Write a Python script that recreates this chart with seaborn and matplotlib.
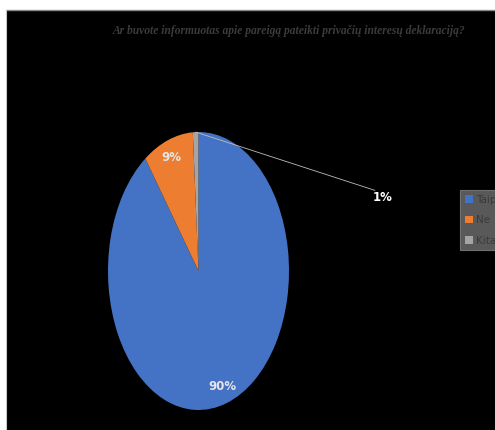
import matplotlib
matplotlib.use('Agg')
import matplotlib.pyplot as plt
import seaborn as sns
import numpy as np
from matplotlib.patches import Rectangle
from matplotlib.lines import Line2D

categories = ['Taip', 'Ne', 'Kita']
values = [90, 9, 1]
pct_labels = ['90%', '9%', '1%']
colors = ['#4472C4', '#ED7D31', '#A5A5A5']
title = 'Ar buvote informuotas apie pareigą pateikti privačių interesų deklaraciją?'

sns.set_theme(style='white')
plt.rcParams['font.family'] = ['DejaVu Sans']

W, H = 495, 430
fig = plt.figure(figsize=(W / 100, H / 100), dpi=100, facecolor='white')
fig.patches.append(Rectangle((6 / W, 0), 1, 420 / H, transform=fig.transFigure,
                             facecolor='black', edgecolor='none', zorder=-10))
fig.lines.append(Line2D([6 / W, 1], [420 / H, 420 / H], transform=fig.transFigure,
                        color='#8a8a8a', lw=1))
fig.lines.append(Line2D([6 / W, 6 / W], [0, 420 / H], transform=fig.transFigure,
                        color='#c8c8c8', lw=0.8))

ax = fig.add_axes([108 / W, 20 / H, 181 / W, 278 / H])
ax.set_facecolor('none')
wedges, _ = ax.pie(values, colors=colors, startangle=90, counterclock=False,
                   radius=1, wedgeprops=dict(linewidth=0))
ax.set_aspect('auto')
ax.set_xlim(-1, 1)
ax.set_ylim(-1, 1)
ax.axis('off')

label_font = ['Liberation Sans Narrow', 'DejaVu Sans']
for i, (w, lab) in enumerate(zip(wedges, pct_labels)):
    ang = np.deg2rad((w.theta1 + w.theta2) / 2)
    if i < 2:
        r = 0.87
        ax.text(r * np.cos(ang), r * np.sin(ang), lab, ha='center', va='center',
                color='#e6e6e6', fontsize=8.5, fontweight='bold', family=label_font)
    else:
        x0, y0 = np.cos(ang), np.sin(ang)
        ax.plot([x0, 1.95], [y0, 0.58], color='#bdbdbd', lw=0.6, clip_on=False)
        ax.text(2.04, 0.53, lab, ha='center', va='center', color='white',
                fontsize=8.5, fontweight='bold', family=label_font, clip_on=False)

fig.text(289 / W, 1 - 31 / H, title, ha='center', va='center',
         family=['Liberation Serif', 'DejaVu Serif'], style='italic', fontweight='bold',
         color='#3c3c3c', fontsize=8.3)

leg = fig.legend(wedges, categories, loc='upper left',
                 bbox_to_anchor=(460 / W, 1 - 190 / H), frameon=True,
                 facecolor='#595959', edgecolor='#707070', labelcolor='#3a3a3a',
                 handlelength=0.75, handleheight=0.75, handletextpad=0.3,
                 labelspacing=1.0, borderpad=0.45, borderaxespad=0, fancybox=False,
                 framealpha=1, prop={'family': label_font, 'size': 7.5})
leg.get_frame().set_linewidth(0.8)

fig.savefig('out.png', dpi=100, facecolor='white')
